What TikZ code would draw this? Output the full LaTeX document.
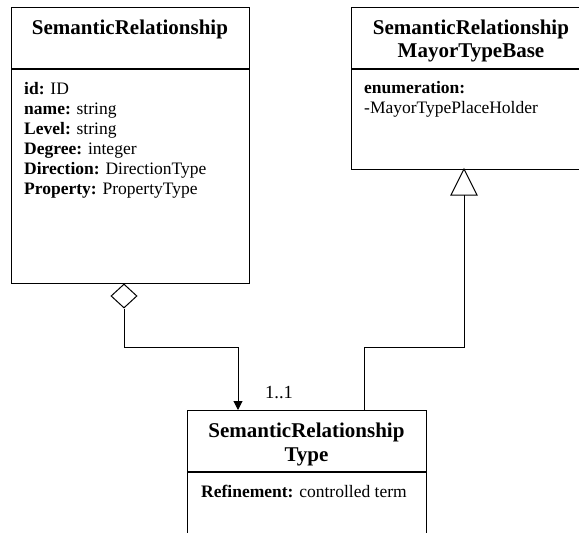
\documentclass[tikz,border=0pt]{standalone}
\usepackage{fontspec}
\setmainfont{Liberation Serif}
\usetikzlibrary{shapes.geometric,arrows.meta}
\tikzset{
  umlbox/.style={draw, line width=1pt, anchor=north west, inner sep=0pt, outer sep=0pt},
  divider/.style={line width=1.8pt},
  ttl/.style={font=\fontsize{21}{23}\selectfont\bfseries, anchor=base, inner sep=0pt},
  attr/.style={font=\fontsize{17.5}{20}\selectfont, anchor=base west, inner sep=0pt},
  conn/.style={line width=1pt},
}
\begin{document}
\begin{tikzpicture}[x=1pt,y=-1pt]
\useasboundingbox (0,0) rectangle (579,533);
\clip (0,0) rectangle (579,533);
% left class
\node[umlbox, minimum width=238pt, minimum height=276pt] (sr) at (11,7) {};
\node[ttl] (srT) at (130,34) {SemanticRelationship};
\draw[divider] (11,69) -- (249,69);
\node[attr] (a1) at (24,94) {\textbf{id:} ID};
\node[attr] (a2) at (24,114) {\textbf{name:} string};
\node[attr] (a3) at (24,134) {\textbf{Level:} string};
\node[attr] (a4) at (24,154) {\textbf{Degree:} integer};
\node[attr] (a5) at (24,174) {\textbf{Direction:} DirectionType};
\node[attr] (a6) at (24,194) {\textbf{Property:} PropertyType};
% right class
\node[umlbox, minimum width=240pt, minimum height=162pt] (mt) at (351,7) {};
\node[ttl] (mtT1) at (471,34) {SemanticRelationship};
\node[ttl] (mtT2) at (471,57) {MayorTypeBase};
\draw[divider] (351,69) -- (591,69);
\node[attr] (b1) at (364,93) {\textbf{enumeration:}};
\node[attr] (b2) at (364,113) {-MayorTypePlaceHolder};
% bottom class
\node[umlbox, minimum width=239pt, minimum height=140pt] (st) at (187,410) {};
\node[ttl] (stT1) at (306.5,437) {SemanticRelationship};
\node[ttl] (stT2) at (306.5,461) {Type};
\draw[divider] (187,472) -- (426,472);
\node[attr] (c1) at (201,497) {\textbf{Refinement:} controlled term};
% aggregation
\node[diamond, draw, line width=1pt, minimum width=26pt, minimum height=24pt, inner sep=0pt, fill=white] (dia) at (124,296) {};
\coordinate (tgt) at (238,410);
\draw[conn, -{Triangle[length=9pt,width=9pt]}] (dia.south) -- (124,347) -| (tgt);
\node[attr, font=\fontsize{18.5}{20}\selectfont] (mult) at (265,398) {1..1};
% generalization
\coordinate (apex) at (464,169);
\coordinate (src) at (364,410);
\draw[conn] (apex) -- (477,195) -- (451,195) -- cycle;
\draw[conn] (src) |- (464,347) -- (464,195);
\end{tikzpicture}
\end{document}
